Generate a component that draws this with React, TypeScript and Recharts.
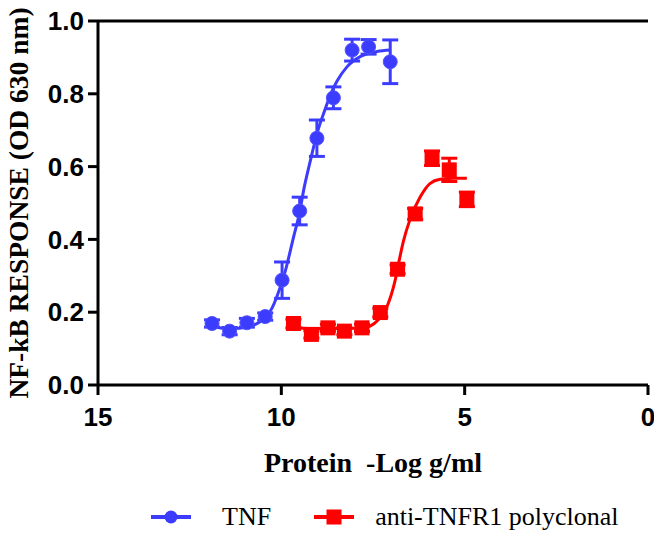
import React from 'react';
import {
  ComposedChart,
  Line,
  Scatter,
  XAxis,
  YAxis,
  ErrorBar,
  ReferenceLine,
  Label,
} from 'recharts';

// measured points, x = -log g/ml, y = OD 630 nm
const tnfDose = [11.89, 11.41, 10.94, 10.44, 9.98, 9.5, 9.03, 8.58, 8.07, 7.62, 7.03];
const tnfResp = [0.169, 0.148, 0.171, 0.188, 0.288, 0.478, 0.678, 0.789, 0.92, 0.929, 0.888];
const tnfSem = [0.01, 0.01, 0.012, 0.01, 0.05, 0.038, 0.05, 0.03, 0.03, 0.02, 0.06];

const antiDose = [9.67, 9.18, 8.73, 8.28, 7.8, 7.3, 6.83, 6.35, 5.89, 5.42, 4.94];
const antiResp = [0.169, 0.139, 0.157, 0.148, 0.157, 0.199, 0.318, 0.47, 0.623, 0.591, 0.51];
const antiSem = [0.012, 0.01, 0.01, 0.01, 0.01, 0.012, 0.012, 0.015, 0.02, 0.032, 0.02];

// fitted curves
const tnfFitDose = [11.89, 11.6, 11.3, 11.0, 10.7, 10.44, 10.25, 10.12, 9.9, 9.67, 9.5, 9.39, 9.2, 9.0, 8.85, 8.65, 8.48, 8.21, 7.85, 7.39, 7.03];
const tnfFitResp = [0.162, 0.156, 0.155, 0.158, 0.167, 0.185, 0.212, 0.243, 0.31, 0.405, 0.475, 0.536, 0.62, 0.7, 0.745, 0.8, 0.835, 0.874, 0.902, 0.916, 0.92];

const antiFitDose = [9.67, 9.2, 8.7, 8.2, 7.8, 7.58, 7.35, 7.12, 6.89, 6.78, 6.67, 6.49, 6.21, 5.94, 5.67, 5.3, 4.94];
const antiFitResp = [0.158, 0.155, 0.155, 0.155, 0.157, 0.162, 0.18, 0.215, 0.29, 0.345, 0.395, 0.455, 0.517, 0.554, 0.565, 0.568, 0.568];

const xTicks = [0, 5, 10, 15];
const yTicks = [0, 0.2, 0.4, 0.6, 0.8, 1.0];

const BLUE = '#3c3cff';
const RED = '#ff0000';

const tnfPoints = tnfDose.map((x, i) => ({ x, y: tnfResp[i], err: tnfSem[i] }));
const antiPoints = antiDose.map((x, i) => ({ x, y: antiResp[i], err: antiSem[i] }));
const tnfFit = tnfFitDose.map((x, i) => ({ x, y: tnfFitResp[i] }));
const antiFit = antiFitDose.map((x, i) => ({ x, y: antiFitResp[i] }));

const tickFont = { fontFamily: '"Liberation Sans", Arial, sans-serif', fontWeight: 700, fontSize: 26, fill: '#000' };

const CircleDot = (props: any) => {
  const { cx, cy } = props;
  if (cx == null || cy == null) return null;
  return <circle cx={cx} cy={cy} r={7} fill={BLUE} stroke="#5252ff" strokeWidth={1} />;
};

const SquareDot = (props: any) => {
  const { cx, cy } = props;
  if (cx == null || cy == null) return null;
  return <rect x={cx - 7.5} y={cy - 7.5} width={15} height={15} fill={RED} />;
};

const XTitle = (props: any) => {
  const { x, y, width } = props.viewBox;
  return (
    <text
      x={x + width / 2}
      y={y + 87}
      textAnchor="middle"
      style={{ whiteSpace: 'pre' }}
      fontFamily='"Liberation Serif", "Times New Roman", serif'
      fontWeight={700}
      fontSize={28}
      fill="#000"
    >
      {'Protein  -Log g/ml'}
    </text>
  );
};

const YTitle = (props: any) => {
  const { x, y, height } = props.viewBox;
  const cx = x + 18;
  const cy = y + height / 2;
  return (
    <text
      x={cx}
      y={cy}
      transform={`rotate(-90, ${cx}, ${cy})`}
      textAnchor="middle"
      dominantBaseline="central"
      fontFamily='"Liberation Serif", "Times New Roman", serif'
      fontWeight={700}
      fontSize={27.5}
      fill="#000"
    >
      NF-kB RESPONSE (OD 630 nm)
    </text>
  );
};

const legendText = { fontFamily: '"Liberation Serif", "Times New Roman", serif', fontSize: 26, color: '#000' };

const DoseResponseChart: React.FC = () => {
  return (
    <div style={{ position: 'absolute', left: 0, top: 0, width: 654, height: 536, background: '#fff' }}>
      <ComposedChart
        width={654}
        height={490}
        margin={{ top: 21, right: 6, left: 0, bottom: 15 }}
      >
        <XAxis
          type="number"
          dataKey="x"
          domain={[0, 15]}
          ticks={xTicks}
          interval={0}
          reversed
          height={90}
          axisLine={{ stroke: '#000', strokeWidth: 3 }}
          tickLine={{ stroke: '#000', strokeWidth: 3 }}
          tickSize={10}
          tickMargin={13}
          tick={tickFont}
        >
          <Label content={XTitle} />
        </XAxis>
        <YAxis
          type="number"
          dataKey="y"
          domain={[0, 1]}
          ticks={yTicks}
          interval={0}
          width={98}
          tickFormatter={(v: number) => v.toFixed(1)}
          axisLine={{ stroke: '#000', strokeWidth: 3 }}
          tickLine={{ stroke: '#000', strokeWidth: 3 }}
          tickSize={10}
          tickMargin={4}
          tick={tickFont}
        >
          <Label content={YTitle} />
        </YAxis>
        <ReferenceLine y={1} stroke="#000" strokeWidth={3} />

        <Line
          data={tnfFit}
          dataKey="y"
          type="monotone"
          stroke={BLUE}
          strokeWidth={3}
          dot={false}
          activeDot={false}
          isAnimationActive={false}
        />
        <Line
          data={antiFit}
          dataKey="y"
          type="monotone"
          stroke={RED}
          strokeWidth={3}
          dot={false}
          activeDot={false}
          isAnimationActive={false}
        />

        <Scatter data={tnfPoints} dataKey="y" shape={CircleDot} isAnimationActive={false}>
          <ErrorBar dataKey="err" direction="y" width={8} stroke={BLUE} strokeWidth={3} isAnimationActive={false} />
        </Scatter>
        <Scatter data={antiPoints} dataKey="y" shape={SquareDot} isAnimationActive={false}>
          <ErrorBar dataKey="err" direction="y" width={8} stroke={RED} strokeWidth={3} isAnimationActive={false} />
        </Scatter>
      </ComposedChart>

      <div style={{ position: 'absolute', top: 501, left: 150, height: 32, display: 'flex', alignItems: 'center', ...legendText }}>
        <svg width={42} height={20} style={{ marginRight: 30 }}>
          <line x1={1} y1={10} x2={41} y2={10} stroke={BLUE} strokeWidth={4} />
          <circle cx={21} cy={10} r={6.5} fill={BLUE} />
        </svg>
        <span style={{ marginRight: 42 }}>TNF</span>
        <svg width={42} height={20} style={{ marginRight: 20 }}>
          <line x1={1} y1={10} x2={41} y2={10} stroke={RED} strokeWidth={4} />
          <rect x={13.5} y={2.5} width={15} height={15} fill={RED} />
        </svg>
        <span>anti-TNFR1 polyclonal</span>
      </div>
    </div>
  );
};

export default function App() {
  return <DoseResponseChart />;
}
